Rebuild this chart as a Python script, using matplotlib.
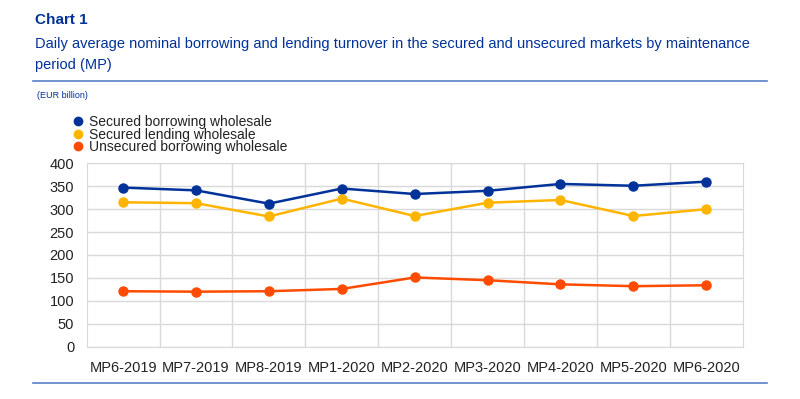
import matplotlib.pyplot as plt
from matplotlib.lines import Line2D

plt.rcParams['font.family'] = ['Liberation Sans', 'DejaVu Sans']

periods = ['MP6-2019', 'MP7-2019', 'MP8-2019', 'MP1-2020', 'MP2-2020',
           'MP3-2020', 'MP4-2020', 'MP5-2020', 'MP6-2020']
secured_borrowing = [347, 341, 312, 345, 333, 340, 355, 351, 360]
secured_lending = [315, 313, 284, 323, 285, 314, 320, 285, 300]
unsecured_borrowing = [121, 120, 121, 126, 151, 145, 136, 132, 134]
series_names = ['Secured borrowing wholesale', 'Secured lending wholesale',
                'Unsecured borrowing wholesale']

blue = '#003299'
yellow = '#FFB400'
orange = '#FF4B00'
rule = '#5B7FC4'

fig = plt.figure(figsize=(8, 3.99), dpi=100)
W, H = 800, 399

# header
fig.text(35 / W, 1 - 20 / H, 'Chart 1', color=blue, fontsize=11,
         fontweight='bold', va='center')
fig.text(35 / W, 1 - 44 / H,
         'Daily average nominal borrowing and lending turnover in the secured and unsecured markets by maintenance',
         color=blue, fontsize=10.5, va='center')
fig.text(35 / W, 1 - 65 / H, 'period (MP)', color=blue, fontsize=10.5, va='center')
fig.add_artist(Line2D([33 / W, 767 / W], [1 - 80.5 / H] * 2, color=rule, lw=1.2))
fig.add_artist(Line2D([33 / W, 767 / W], [1 - 383 / H] * 2, color=rule, lw=1.2))
fig.text(37 / W, 1 - 95 / H, '(EUR billion)', color=blue, fontsize=6.5, va='center')

ax = fig.add_axes([86.7 / W, 1 - 346.7 / H, 656 / W, 183.4 / H])
x = range(len(periods))
for vals, c in zip([secured_borrowing, secured_lending, unsecured_borrowing],
                   [blue, yellow, orange]):
    ax.plot(x, vals, color=c, lw=1.8, marker='o', ms=6.5, zorder=3)

ax.set_xlim(-0.5, len(periods) - 0.5)
ax.set_ylim(0, 400)
ax.set_yticks(range(0, 401, 50))
ax.set_xticks(list(x))
ax.set_xticklabels(periods)
ax.set_xticks([i + 0.5 for i in range(len(periods) - 1)], minor=True)
ax.grid(True, which='major', axis='y', color='#d9d9d9', lw=1)
ax.grid(True, which='minor', axis='x', color='#d9d9d9', lw=1)
ax.tick_params(which='both', length=0, labelsize=10.5, colors='#222222')
ax.tick_params(axis='x', pad=10)
ax.tick_params(axis='y', pad=9)
for s in ax.spines.values():
    s.set_color('#d9d9d9')

handles = [Line2D([], [], color=c, marker='o', ls='', ms=6)
           for c in [blue, yellow, orange]]
fig.legend(handles, series_names, loc='upper left',
           bbox_to_anchor=(63 / W, 1 - 108 / H), frameon=False, fontsize=10,
           labelspacing=-0.1, handletextpad=0.15, handlelength=1.2,
           borderpad=0, labelcolor='#222222')

fig.savefig('out.png', dpi=100)
